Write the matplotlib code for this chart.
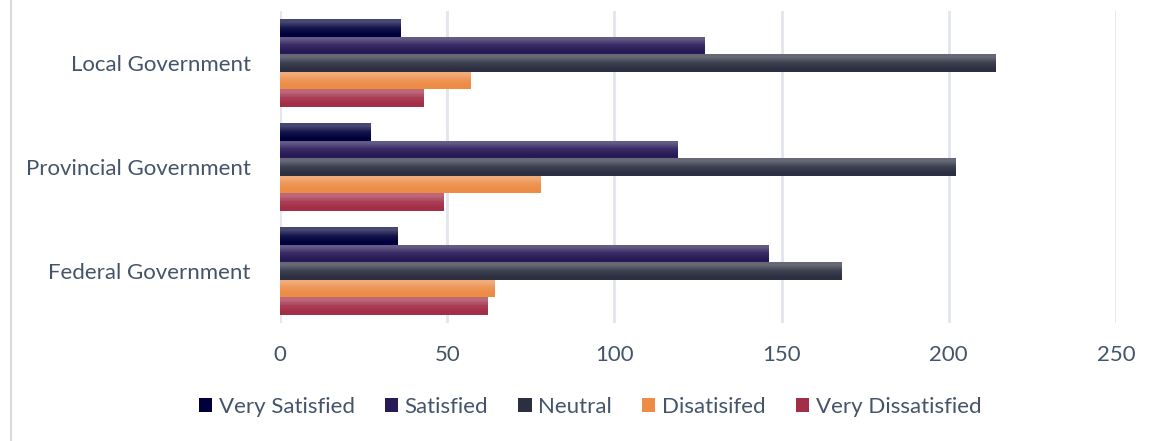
import matplotlib.pyplot as plt
import numpy as np
from matplotlib.colors import to_rgb
from matplotlib.lines import Line2D

# data
categories = ['Federal Government', 'Provincial Government', 'Local Government']
series = ['Very Satisfied', 'Satisfied', 'Neutral', 'Disatisifed', 'Very Dissatisfied']
very_satisfied = [35, 27, 36]
satisfied = [146, 119, 127]
neutral = [168, 202, 214]
disatisifed = [64, 78, 57]
very_dissatisfied = [62, 49, 43]
xticks = [0, 50, 100, 150, 200, 250]

values = [very_satisfied, satisfied, neutral, disatisifed, very_dissatisfied]
colors = ['#00003C', '#281A57', '#2B2F40', '#EC8C45', '#A32E47']
txt = '#44546A'

plt.rcParams['font.family'] = ['Lato', 'DejaVu Sans']

fig = plt.figure(figsize=(11.51, 4.41), dpi=100)
ax = fig.add_axes([280/1151, 118/441, 836/1151, 312/441])

y = np.arange(len(categories))
h = 0.169

def lighten(c, f):
    r = np.array(to_rgb(c))
    return tuple(r + (1 - r) * f)

for i, (vals, col) in enumerate(zip(values, colors)):
    offs = (2 - i) * h
    bars = ax.barh(y + offs, vals, height=h, color=col, label=series[i], zorder=2)
    # vertical gradient on each bar, lighter at the top
    grad = np.array([[lighten(col, 0.28)], [lighten(col, 0.08)], [to_rgb(col)]])
    for b in bars:
        x0, y0 = b.get_x(), b.get_y()
        w, hh = b.get_width(), b.get_height()
        im = ax.imshow(grad, extent=(x0, x0 + w, y0, y0 + hh), origin='upper',
                       aspect='auto', interpolation='bilinear', zorder=3)
        im.set_clip_path(b)

ax.set_xlim(0, 250)
ax.set_ylim(-0.5, 2.5)
ax.set_xticks(xticks)
ax.set_yticks(y)
ax.set_yticklabels(categories)
ax.grid(axis='x', color='#E1E5EC', linewidth=2, zorder=0)
ax.set_axisbelow(True)
for s in ax.spines.values():
    s.set_visible(False)
ax.tick_params(axis='both', length=0, labelsize=16, labelcolor=txt)
ax.tick_params(axis='x', pad=16)
ax.tick_params(axis='y', pad=21)

handles, labels = ax.get_legend_handles_labels()
fig.legend(handles, labels, loc='center', bbox_to_anchor=(590/1151, 1 - 407/441),
           ncol=5, frameon=False, fontsize=16, labelcolor=txt,
           handlelength=0.6, handleheight=0.6, handletextpad=0.3, columnspacing=1.35)

# light chart-area border
fig.add_artist(Line2D([10.5/1151, 10.5/1151], [0, 1], transform=fig.transFigure,
                      color='#D9D9D9', linewidth=1.5))

fig.savefig('out.png', dpi=100)
